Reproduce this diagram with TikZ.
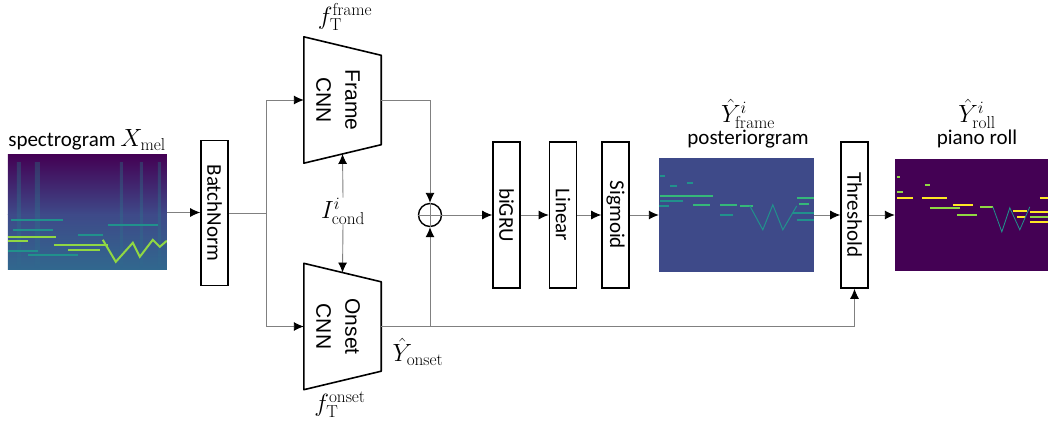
\documentclass[tikz,border=0pt]{standalone}
\usepackage[no-math]{fontspec}
\setmainfont{Carlito}
\newfontfamily\cnnfont{Liberation Sans}
\usetikzlibrary{arrows.meta,calc,positioning}

\definecolor{vPurple}{HTML}{440154}
\definecolor{vDark}{HTML}{472D7B}
\definecolor{vBlue}{HTML}{3E4A89}
\definecolor{vSea}{HTML}{31688E}
\definecolor{vTeal}{HTML}{21918C}
\definecolor{vGreen}{HTML}{35B779}
\definecolor{vLime}{HTML}{90D743}
\definecolor{vYellow}{HTML}{FDE725}
\definecolor{lineGray}{HTML}{808080}

\newcommand{\mathsize}{\fontsize{24}{28}\selectfont}

\begin{document}
\begin{tikzpicture}[x=1pt,y=-1pt,%%
  blockStyle/.style={draw,line width=1.6pt,minimum width=146pt,minimum height=27pt,%%
    inner sep=0pt,rotate=-90,font=\fontsize{21}{25}\selectfont},%%
  cnnStyle/.style={minimum width=77pt,minimum height=126pt,inner sep=0pt},%%
  cnnText/.style={inner sep=0pt,align=center,rotate=-90,%%
    font=\cnnfont\fontsize{21}{29}\selectfont},%%
  trapStyle/.style={line width=1.6pt,line join=round},%%
  imgStyle/.style={inner sep=0pt},%%
  labelStyle/.style={inner sep=0pt,align=center,font=\fontsize{21}{25}\selectfont},%%
  mathStyle/.style={inner sep=0pt,font=\mathsize},%%
  connStyle/.style={-,draw=lineGray,line width=0.9pt},%%
  arrowStyle/.style={connStyle,-{Latex[length=10pt,width=9pt,color=black]}},%%
  sumStyle/.style={circle,draw,line width=1.4pt,minimum size=23pt,inner sep=0pt}%%
]
%%
\pgfmathsetmacro{\midy}{213}   %% height of the main signal line
\pgfmathsetmacro{\lowy}{326}   %% height of the onset line
\pgfmathsetmacro{\topy}{100}   %% height of the frame line
\pgfmathsetmacro{\slope}{18.5} %% drop of the slanted CNN edges
%%
\useasboundingbox (0,0) rectangle (1048,429);
%%
%% The input spectrogram.
\node[imgStyle,minimum width=159pt,minimum height=115pt] (spec) at (87.5,212.5) {};
\begin{scope}[shift={(spec.north west)}]
  \clip (0,0) rectangle (159,115);
  \shade[top color=vPurple,bottom color=vBlue] (0,0) rectangle (159,60);
  \shade[top color=vBlue,bottom color=vSea] (0,60) rectangle (159,115);
  \foreach \sx/\sw in {9/4,27/5,112/3,132/3,150/3}
    \shade[top color=vTeal,bottom color=vSea,opacity=0.3] (\sx,8) rectangle ++(\sw,107);
  \foreach \ax/\bx/\ay in {3/55/65,5/45/75,20/70/100,0/30/96,70/95/80,100/150/70}
    \draw[vTeal,line width=1.5pt] (\ax,\ay) -- (\bx,\ay);
  \foreach \ax/\bx/\ay in {0/48/82,0/20/86,46/100/90,60/92/95}
    \draw[vLime,line width=2.5pt] (\ax,\ay) -- (\bx,\ay);
  \draw[vLime,line width=2pt] (95,85) -- (108,107) -- (125,88) -- (132,102) -- (145,85) -- (152,92) -- (159,86);
\end{scope}
\node[labelStyle] (specLabel) at (87,140) {spectrogram {\mathsize$X_{\mathrm{mel}}$}};
%%
%% Batch normalisation.
\node[blockStyle,minimum width=145pt] (bn) at (214.5,\midy) {BatchNorm};
\coordinate (split) at (266,\midy);
%%
%% The two CNNs.
\node[cnnStyle] (frame) at (342.5,\topy) {};
\node[cnnText] (frameText) at (338,\topy) {Frame\\CNN};
\coordinate (frameTR) at ($(frame.north east)+(0,\slope)$);
\coordinate (frameBR) at ($(frame.south east)+(0,-\slope)$);
\draw[trapStyle] (frame.north west) -- (frameTR) -- (frameBR) -- (frame.south west) -- cycle;
\node[cnnStyle] (onset) at (342.5,326.5) {};
\node[cnnText] (onsetText) at (338,326.5) {Onset\\CNN};
\coordinate (onsetTR) at ($(onset.north east)+(0,\slope)$);
\coordinate (onsetBR) at ($(onset.south east)+(0,-\slope)$);
\draw[trapStyle] (onset.north west) -- (onsetTR) -- (onsetBR) -- (onset.south west) -- cycle;
%% Labels of the CNNs.
\node[mathStyle] (frameName) at (345,17) {$f_{\mathrm{T}}^{\mathrm{frame}}$};
\node[mathStyle] (onsetName) at (340,405) {$f_{\mathrm{T}}^{\mathrm{onset}}$};
\node[mathStyle] (cond) at (343,211) {$I_{\mathrm{cond}}^{i}$};
\node[mathStyle] (onsetOut) at (418,352) {$\hat{Y}_{\mathrm{onset}}$};
%%
%% Sum and recurrent part.
\node[sumStyle] (sum) at (430,\midy+2) {};
\draw[connStyle] (sum.north) -- (sum.south) (sum.west) -- (sum.east);
\node[blockStyle] (gru) at (506.5,215) {biGRU};
\node[blockStyle] (lin) at (563,215) {Linear};
\node[blockStyle] (sig) at (615.5,215) {Sigmoid};
%%
%% The posteriorgram.
\node[imgStyle,minimum width=155pt,minimum height=114pt] (post) at (736.5,215) {};
\begin{scope}[shift={(post.north west)}]
  \clip (0,0) rectangle (155,114);
  \fill[vBlue] (0,0) rectangle (155,114);
  \foreach \ax/\bx/\ay in {1/6/18,11/18/28,28/34/25,1/24/43,61/74/57,134/155/55,138/155/62,0/10/48}
    \draw[vTeal,line width=2pt] (\ax,\ay) -- (\bx,\ay);
  \foreach \ax/\bx/\ay in {1/24/38,24/54/38,34/51/47,61/78/47,81/94/48,138/155/40,140/150/46}
    \draw[vGreen,line width=2.5pt] (\ax,\ay) -- (\bx,\ay);
  \draw[vTeal,line width=1pt] (91,48) -- (104,72) -- (114,47) -- (124,72) -- (138,48);
\end{scope}
\node[mathStyle] (postSym) at (748,114) {$\hat{Y}_{\mathrm{frame}}^{i}$};
\node[labelStyle] (postName) at (748,139) {posteriorgram};
%%
%% Threshold and piano roll.
\node[blockStyle] (thr) at (854.5,215) {Threshold};
\node[imgStyle,minimum width=153pt,minimum height=112pt] (roll) at (971.5,215) {};
\begin{scope}[shift={(roll.north west)}]
  \clip (0,0) rectangle (153,112);
  \fill[vPurple] (0,0) rectangle (153,112);
  \foreach \ax/\bx/\ay in {2/5/18,30/35/26,2/8/33,35/65/49,62/82/56,135/153/58,85/98/48}
    \draw[vLime,line width=1.5pt] (\ax,\ay) -- (\bx,\ay);
  \foreach \ax/\bx/\ay in {2/18/39,27/52/39,58/78/46,118/132/52,122/130/58,135/153/53,135/153/63,145/153/39}
    \draw[vYellow,line width=2.5pt] (\ax,\ay) -- (\bx,\ay);
  \draw[vTeal,line width=0.8pt] (98,48) -- (107,73) -- (115,49) -- (125,71) -- (135,48);
\end{scope}
\node[mathStyle] (rollSym) at (977,114) {$\hat{Y}_{\mathrm{roll}}^{i}$};
\node[labelStyle] (rollName) at (977,139) {piano roll};
%%
%% Connections (the blocks are turned: south is their left side, north their right side).
\draw[arrowStyle] (spec.east) -- (spec.east -| bn.south);
\draw[connStyle] (bn.north |- split) -- (split);
\draw[arrowStyle] (split) |- (frame.west);
\draw[arrowStyle] (split) |- (onset.west);
\draw[arrowStyle] (cond.north) -- ($(frame.south west)!0.5!(frameBR)$);
\draw[arrowStyle] (cond.south) -- ($(onset.north west)!0.5!(onsetTR)$);
\draw[arrowStyle] (frame.east) -| (sum.north);
\draw[arrowStyle] (onset.east -| sum) -- (sum.south);
\draw[arrowStyle] (onset.east) -| (thr.east);
\draw[arrowStyle] (sum.east) -- (gru.south);
\draw[arrowStyle] (gru.north) -- (lin.south);
\draw[arrowStyle] (lin.north) -- (sig.south);
\draw[arrowStyle] (sig.north) -- (post.west);
\draw[arrowStyle] (post.east) -- (thr.south);
\draw[arrowStyle] (thr.north) -- (roll.west);
\end{tikzpicture}
\end{document}
